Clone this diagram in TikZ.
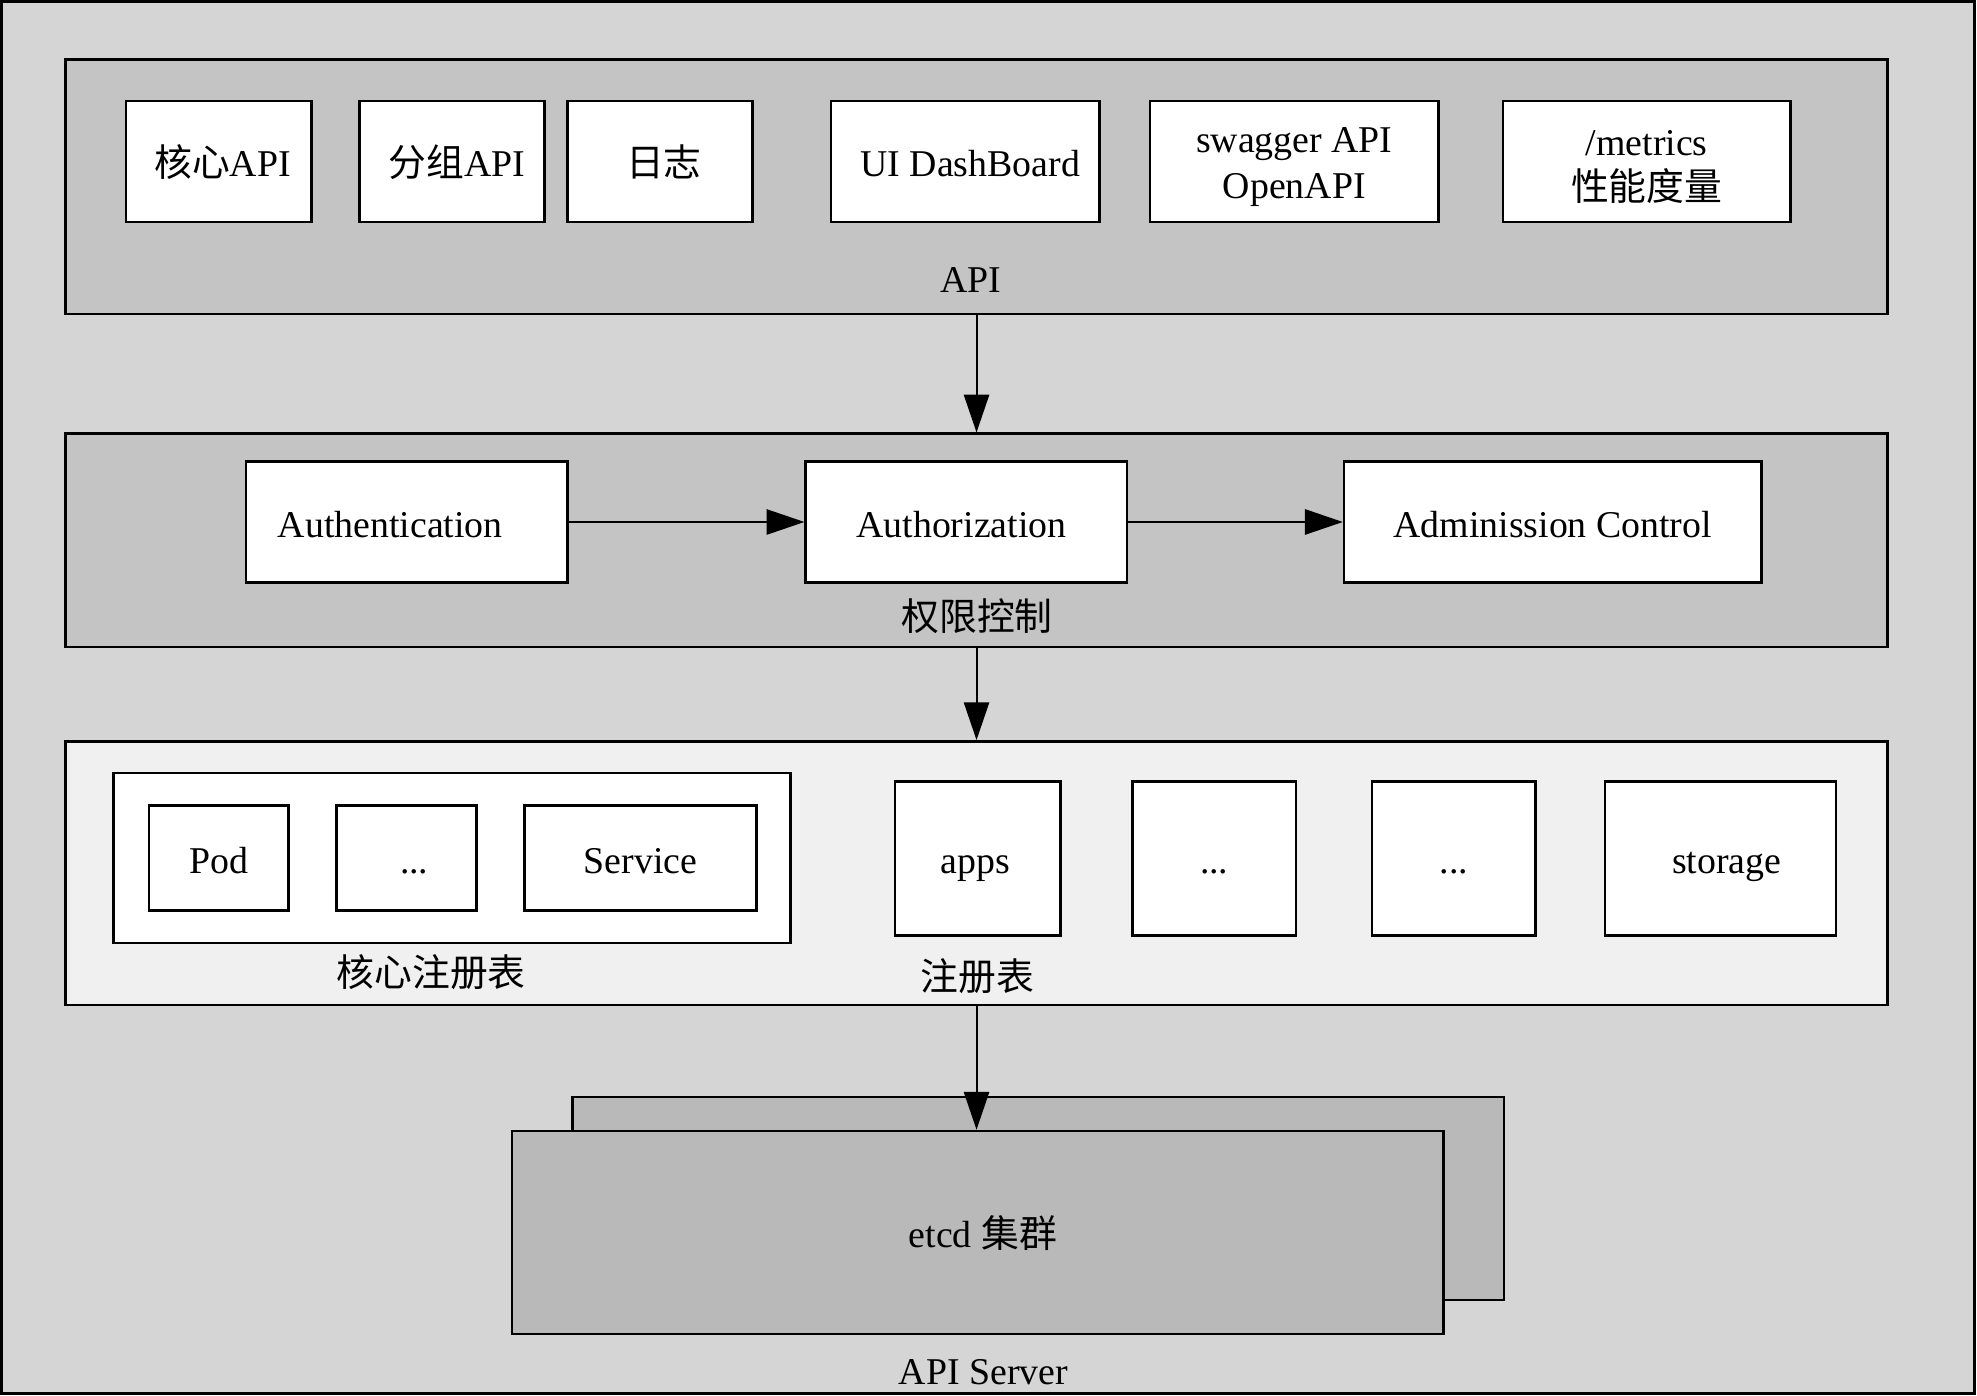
\documentclass[tikz,border=0pt]{standalone}
\usepackage{fontspec}
\setmainfont{Liberation Serif}
\newfontfamily\cjk{Noto Sans CJK SC}
\usetikzlibrary{arrows.meta}
\definecolor{outerc}{RGB}{213,213,213}
\definecolor{panelc}{RGB}{196,196,196}
\definecolor{regc}{RGB}{240,240,240}
\definecolor{etcdc}{RGB}{185,185,185}
\newcommand\toppad{\rule{0pt}{14.5pt}}
\tikzset{
  every node/.style={font=\fontsize{15}{18}\selectfont},
  panel/.style={draw, line width=1pt, fill=panelc, inner sep=0pt},
  wbox/.style={draw, line width=1pt, fill=white, inner sep=0pt, align=center},
  sbox/.style={wbox, text height=12pt, text depth=0pt},
  lbl/.style={inner sep=0pt},
  arr/.style={line width=0.8pt, -{Triangle[length=15pt,width=10pt]}},
}
\begin{document}
\begin{tikzpicture}[x=0.5pt,y=-0.5pt]
\useasboundingbox (0,0) rectangle (1568,1107);
\draw[line width=1pt, fill=outerc] (1,1) rectangle (1566,1105);

% API layer
\node[panel, minimum width=722.5pt, minimum height=101pt] (apipanel) at (774.5,148) {};
\node[lbl] (apilbl) at (770,222) {API};
\node[sbox, minimum width=73.5pt, minimum height=48pt] (core) at (173.5,128) {\hspace*{3pt}{\cjk 核心}API};
\node[sbox, minimum width=73.5pt, minimum height=48pt] (group) at (358.5,128) {\hspace*{4pt}{\cjk 分组}API};
\node[sbox, minimum width=73.5pt, minimum height=48pt] (logs) at (523.5,128) {\hspace*{3pt}{\cjk 日志}};
\node[sbox, minimum width=106.5pt, minimum height=48pt] (ui) at (765.5,128) {\hspace*{4pt}UI DashBoard};
\node[wbox, minimum width=114.5pt, minimum height=48pt] (swagger) at (1026.5,128) {\toppad swagger API\\OpenAPI};
\node[wbox, minimum width=114pt, minimum height=48pt] (metrics) at (1306,128) {\toppad/metrics\\{\cjk 性能度量}};

% Auth layer
\node[panel, minimum width=722.5pt, minimum height=84.5pt] (authpanel) at (774.5,428.5) {};
\node[lbl] (authlbl) at (775,489) {\cjk 权限控制};
\node[sbox, minimum width=127.5pt, minimum height=48pt] (authn) at (322.5,414) {\hspace*{-13pt}Authentication};
\node[sbox, minimum width=127.5pt, minimum height=48pt] (authz) at (766.5,414) {\hspace*{-4pt}Authorization};
\node[sbox, minimum width=165.5pt, minimum height=48pt] (adm) at (1231.5,414) {Adminission Control};

% Registry layer
\node[panel, fill=regc, minimum width=722.5pt, minimum height=104.5pt] (regpanel) at (774.5,692.5) {};
\node[wbox, minimum width=268.5pt, minimum height=67.5pt] (corereg) at (358.5,680.5) {};
\node[lbl] (corelbl) at (342,771) {\cjk 核心注册表};
\node[sbox, minimum width=55.5pt, minimum height=41.5pt] (pod) at (173.5,680.5) {Pod};
\node[sbox, minimum width=55.5pt, minimum height=41.5pt] (dotsa) at (322.5,680.5) {\hspace*{6pt}...};
\node[sbox, minimum width=92pt, minimum height=41.5pt] (service) at (508,680.5) {Service};
\node[sbox, minimum width=65.5pt, minimum height=61pt] (apps) at (775.5,681) {\hspace*{-2pt}apps};
\node[sbox, minimum width=65pt, minimum height=61pt] (dotsb) at (963,681) {...};
\node[sbox, minimum width=65pt, minimum height=61pt] (dotsc) at (1153,681) {...};
\node[sbox, minimum width=91.5pt, minimum height=61pt] (storage) at (1364.5,681) {\hspace*{5pt}storage};
\node[lbl] (reglbl) at (775,774) {\cjk 注册表};

% etcd
\node[panel, fill=etcdc, minimum width=369.5pt, minimum height=80.5pt] (etcdback) at (823.5,950.5) {};
\node[panel, fill=etcdc, minimum width=369.5pt, minimum height=80.5pt, text height=12pt, text depth=0pt] (etcd) at (775.5,977.5) {\hspace*{4pt}etcd {\cjk 集群}};
\node[lbl] (srvlbl) at (780,1088) {API Server};

% connectors
\draw[arr] (apipanel.south) -- (authpanel.north);
\draw[arr] (authpanel.south) -- (regpanel.north);
\draw[arr] (regpanel.south) -- (regpanel.south |- etcd.north);
\draw[arr] (authn.east) -- (authz.west);
\draw[arr] (authz.east) -- (adm.west);
\end{tikzpicture}
\end{document}
